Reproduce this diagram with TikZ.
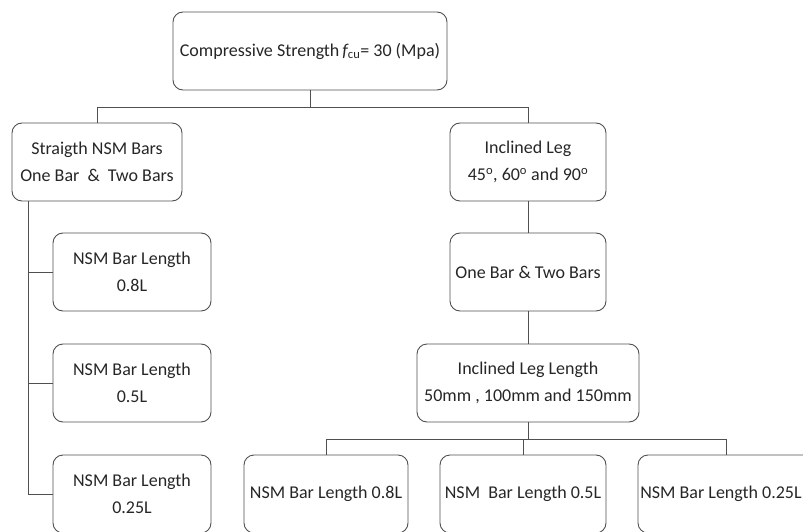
\documentclass[tikz,border=0pt]{standalone}
\usepackage{fontspec}
\setmainfont{Carlito}
\definecolor{linegray}{HTML}{505050}
\definecolor{textgray}{HTML}{262626}
\begin{document}
\begin{tikzpicture}[x=1pt,y=-1pt,
  box/.style={draw=linegray,line width=0.9pt,rounded corners=10pt,inner sep=0pt,
    minimum height=78pt,align=center,text=textgray,font=\fontsize{18}{27}\selectfont},
  wire/.style={draw=linegray,line width=0.9pt}]
\useasboundingbox (0,0) rectangle (803,532);
\node[box,minimum width=274pt] (top) at (310,51) {Compressive Strength\,{\itshape f}\textsubscript{cu}= 30 (Mpa)};
\node[box,minimum width=170pt] (straight) at (97,162) {Straigth NSM Bars\\One Bar~~\&~~Two Bars};
\node[box,minimum width=156pt] (incl) at (528,162) {Inclined Leg\\45\textsuperscript{o}, 60\textsuperscript{o} and 90\textsuperscript{o}};
\node[box,minimum width=158pt] (lenA) at (132,272) {NSM Bar Length\\0.8L};
\node[box,minimum width=158pt] (lenB) at (132,383) {NSM Bar Length\\0.5L};
\node[box,minimum width=158pt] (lenC) at (132,494) {NSM Bar Length\\0.25L};
\node[box,minimum width=156pt] (onebar) at (528,272) {One Bar \& Two Bars};
\node[box,minimum width=222pt] (leglen) at (528,383) {Inclined Leg Length\\50mm , 100mm and 150mm};
\node[box,minimum width=164pt] (barA) at (326,494) {NSM Bar Length 0.8L};
\node[box,minimum width=166pt] (barB) at (523,494) {NSM~~Bar Length 0.5L};
\node[box,minimum width=176pt] (barC) at (726,494) {NSM~Bar Length 0.25L\hspace*{10pt}};
\coordinate (trunk) at (28,201);
\draw[wire] (top.south) -- ++(0,17) -| (straight.north);
\draw[wire] (top.south) -- ++(0,17) -| (incl.north);
\draw[wire] (trunk) |- (lenA.west);
\draw[wire] (trunk) |- (lenB.west);
\draw[wire] (trunk) |- (lenC.west);
\draw[wire] (incl.south) -- (onebar.north);
\draw[wire] (onebar.south) -- (leglen.north);
\draw[wire] (leglen.south) -- ++(0,17) -| (barA.north);
\draw[wire] (leglen.south) -- ++(0,17) -| (barB.north);
\draw[wire] (leglen.south) -- ++(0,17) -| (barC.north);
\end{tikzpicture}
\end{document}
